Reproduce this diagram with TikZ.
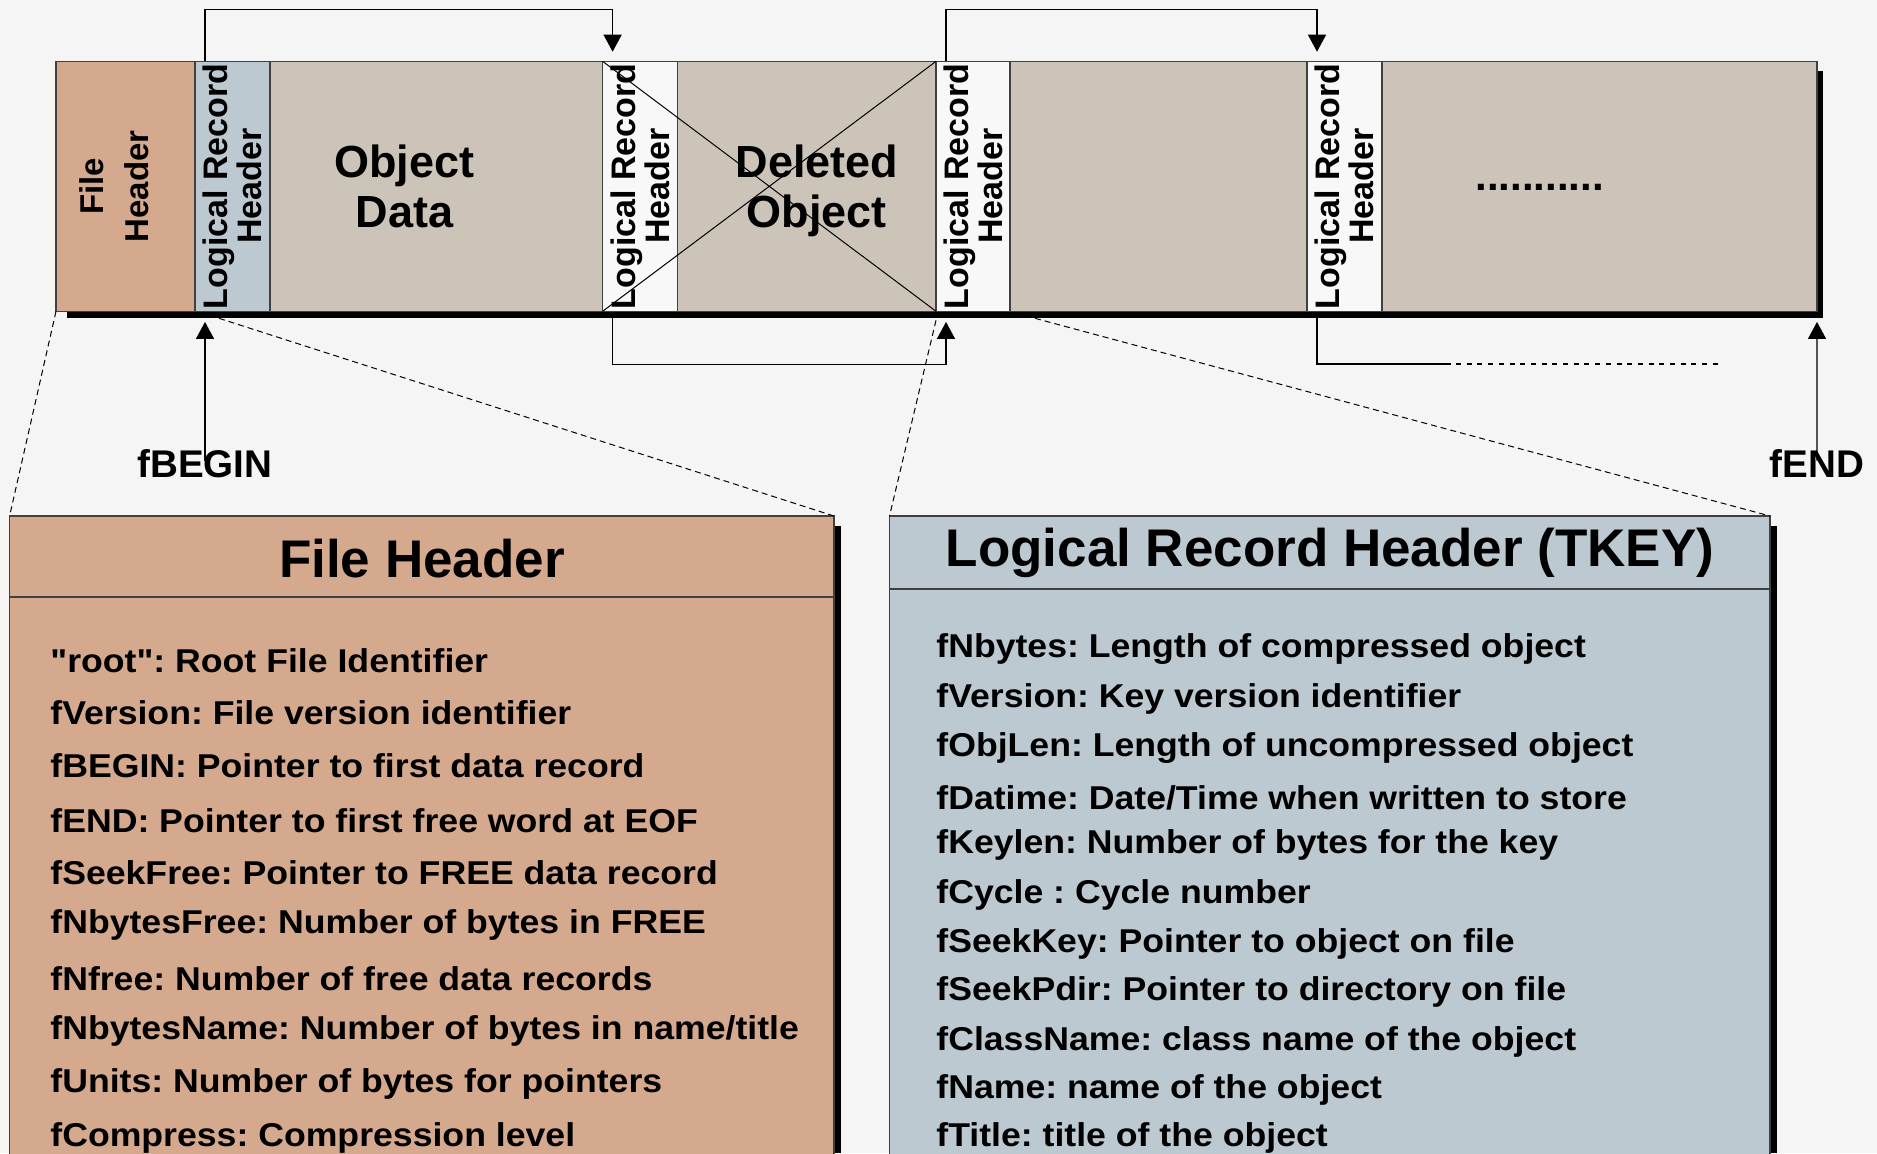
\documentclass[tikz,border=0pt]{standalone}
\usepackage{fontspec}
\setmainfont{Liberation Sans}
\newfontfamily\bodyfont{Liberation Sans}[FakeStretch=1.08]
\usetikzlibrary{arrows.meta,positioning}
\frenchspacing

\definecolor{pagebg}{HTML}{F5F5F5}
\definecolor{fhcol}{HTML}{D4A98D}
\definecolor{lrhcol}{HTML}{BDC9D1}
\definecolor{objcol}{HTML}{CCC3B9}
\definecolor{keycol}{HTML}{F8F8F8}

\begin{document}
\begin{tikzpicture}[
  x=0.5pt, y=-0.5pt,
  seg/.style={draw=black!75, line width=0.6pt, inner sep=0pt, outer sep=0pt,
              anchor=north west, minimum height=125pt},
  vtxt/.style={rotate=90, align=center, inner sep=0pt,
               font=\bfseries\fontsize{17}{15}\selectfont},
  btxt/.style={align=center, inner sep=0pt,
               font=\bfseries\fontsize{22.5}{25}\selectfont},
  infobox/.style={draw=black!75, line width=0.65pt, inner sep=0pt, outer sep=0pt,
                  anchor=north west, minimum height=330pt},
  boxtitle/.style={anchor=base, inner sep=0pt, font=\bfseries\fontsize{26.5}{30}\selectfont},
  field/.style={anchor=base west, inner sep=0pt, font=\bodyfont\bfseries\fontsize{16.5}{20}\selectfont},
  ptrlbl/.style={anchor=base, inner sep=0pt, font=\bfseries\fontsize{19.3}{22}\selectfont},
  link/.style={line width=0.7pt, -{Triangle[length=8.5pt, width=9pt]}},
  zoomline/.style={line width=0.5pt, dash pattern=on 3pt off 2pt}
]
\useasboundingbox (0,0) rectangle (1877,1153);
\clip (0,0) rectangle (1877,1153);
\fill[pagebg] (0,0) rectangle (1877,1153);

% ---- shadows
\fill[black] (67,71) rectangle (1823,318);
\fill[black] (834,526) rectangle (840.7,1153);
\fill[black] (1770,526) rectangle (1776.5,1153);

% ---- file layout strip
\node[seg, fill=fhcol, minimum width=69.5pt] (fh) at (56,61.3) {};
\node[seg, fill=lrhcol, minimum width=37.5pt, right=0pt of fh] (lrhA) {};
\node[seg, fill=objcol, minimum width=166.3pt, right=0pt of lrhA] (obj) {};
\node[seg, fill=keycol, minimum width=37.5pt, right=0pt of obj] (lrhB) {};
\node[seg, fill=objcol, minimum width=129.2pt, right=0pt of lrhB] (del) {};
\node[seg, fill=keycol, minimum width=37pt, right=0pt of del] (lrhC) {};
\node[seg, fill=objcol, minimum width=148.5pt, right=0pt of lrhC] (free) {};
\node[seg, fill=keycol, minimum width=37.5pt, right=0pt of free] (lrhD) {};
\node[seg, fill=objcol, minimum width=217.5pt, right=0pt of lrhD] (rest) {};

\node[vtxt, font=\bfseries\fontsize{16.5}{22.3}\selectfont] (fhtxt) at ([xshift=-5.75pt]fh.center) {File\\Header};
\node[vtxt] (lrhAtxt) at (lrhA.center) {Logical Record\\Header};
\node[btxt] (objtxt) at ([xshift=-16pt]obj.center) {Object\\Data};
\node[vtxt] (lrhBtxt) at (lrhB.center) {Logical Record\\Header};
\node[btxt] (deltxt) at ([xshift=5pt,yshift=-2.5pt]del.center) {Deleted\\Object};
\node[vtxt] (lrhCtxt) at (lrhC.center) {Logical Record\\Header};
\node[vtxt] (lrhDtxt) at (lrhD.center) {Logical Record\\Header};
\node[inner sep=0pt, font=\bfseries\fontsize{21}{21}\selectfont] (dots) at ([xshift=-30pt,yshift=-0.5pt]rest.center) {...........};

% deleted record is crossed out
\draw[line width=0.5pt] (lrhB.north west) -- (del.south east)
                        (lrhB.south west) -- (del.north east);

% ---- record chain
\draw[link] ([xshift=5pt]lrhA.north west) -- ++(0,-52) -| ([xshift=5pt,yshift=4.8pt]lrhB.north west);
\draw[link] ([xshift=5pt]lrhC.north west) -- ++(0,-52) -| ([xshift=5pt,yshift=4.8pt]lrhD.north west);
\draw[link] ([xshift=5pt,yshift=-3.5pt]lrhB.south west) -- ++(0,46) -| ([xshift=5pt,yshift=-5.3pt]lrhC.south west);
\coordinate (tailA) at (1451,364.3);
\coordinate (tailB) at (1722,364.3);
\draw[line width=0.9pt] ([xshift=5pt,yshift=-3.5pt]lrhD.south west) |- (tailA);
\draw[line width=0.9pt, dash pattern=on 2.5pt off 2.85pt, dash phase=2.85pt] (tailA) -- (tailB);

% ---- fBEGIN / fEND pointers
\node[ptrlbl] (fbegin) at (205,477) {fBEGIN};
\node[ptrlbl] (fend) at (1817,477) {fEND};
\draw[link] ([yshift=-6pt]fbegin.north) -- ([xshift=5pt,yshift=-5.3pt]lrhA.south west);
\draw[link] ([yshift=-6pt]fend.north) -- ([yshift=-5.3pt]rest.south east);

% ---- detail boxes
\node[infobox, fill=fhcol, minimum width=412.2pt] (fhbox) at (9.6,516) {};
\node[infobox, fill=lrhcol, minimum width=440.25pt] (keybox) at (889.5,516) {};
\draw[line width=0.9pt, draw=black!75] ([yshift=-40.5pt]fhbox.north west) -- ([yshift=-40.5pt]fhbox.north east);
\draw[line width=0.9pt, draw=black!75] ([yshift=-36.5pt]keybox.north west) -- ([yshift=-36.5pt]keybox.north east);

\draw[zoomline] (fh.south west) -- (fhbox.north west);
\draw[zoomline] ([xshift=12pt,yshift=-3.5pt]lrhA.south west) -- (fhbox.north east);
\draw[zoomline] ([yshift=-4.5pt]lrhC.south west) -- (keybox.north west);
\draw[zoomline] ([xshift=12.5pt,yshift=-3.5pt]lrhC.south east) -- (keybox.north east);

\node[boxtitle] (fhtitle) at (422,577) {File Header};
\node[field] (fh1) at (50,672.5) {"root": Root File Identifier};
\node[field] (fh2) at (50,724.5) {fVersion: File version identifier};
\node[field] (fh3) at (50,777.5) {fBEGIN: Pointer to first data record};
\node[field] (fh4) at (50,832.5) {fEND: Pointer to first free word at EOF};
\node[field] (fh5) at (50,884.5) {fSeekFree: Pointer to FREE data record};
\node[field] (fh6) at (50,933.5) {fNbytesFree: Number of bytes in FREE};
\node[field] (fh7) at (50,990.5) {fNfree: Number of free data records};
\node[field] (fh8) at (50,1039.5) {fNbytesName: Number of bytes in name/title};
\node[field] (fh9) at (50,1092.5) {fUnits: Number of bytes for pointers};
\node[field] (fh10) at (50,1146.5) {fCompress: Compression level};

\node[boxtitle] (keytitle) at (1330,566.6) {Logical Record Header (TKEY)};
\node[field] (k1) at (936,657.5) {fNbytes: Length of compressed object};
\node[field] (k2) at (936,707.5) {fVersion: Key version identifier};
\node[field] (k3) at (936,756.5) {fObjLen: Length of uncompressed object};
\node[field] (k4) at (936,809.5) {fDatime: Date/Time when written to store};
\node[field] (k5) at (936,853) {fKeylen: Number of bytes for the key};
\node[field] (k6) at (936,903.5) {fCycle : Cycle number};
\node[field] (k7) at (936,952.5) {fSeekKey: Pointer to object on file};
\node[field] (k8) at (936,1000.5) {fSeekPdir: Pointer to directory on file};
\node[field] (k9) at (936,1050) {fClassName: class name of the object};
\node[field] (k10) at (936,1098.5) {fName: name of the object};
\node[field] (k11) at (936,1146.5) {fTitle: title of the object};
\end{tikzpicture}
\end{document}
